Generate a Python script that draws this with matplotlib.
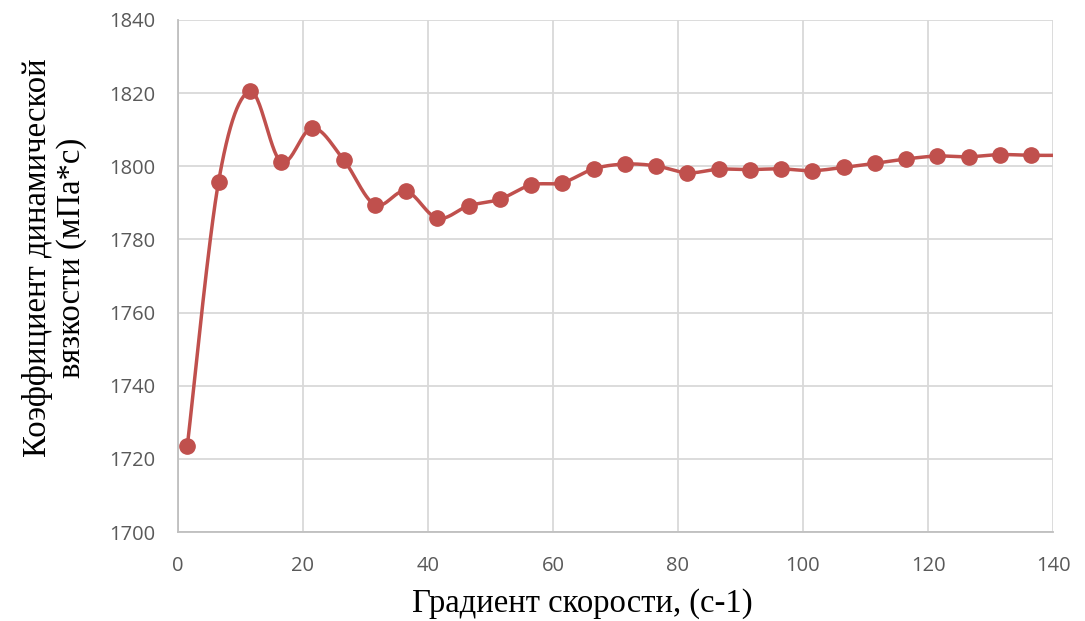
import numpy as np
import matplotlib.pyplot as plt

# скорость сдвига и вязкость
shear_rate = [1.5, 6.5, 11.5, 16.5, 21.5, 26.5, 31.5, 36.5, 41.5, 46.5,
              51.5, 56.5, 61.5, 66.5, 71.5, 76.5, 81.5, 86.5, 91.5, 96.5,
              101.5, 106.5, 111.5, 116.5, 121.5, 126.5, 131.5, 136.5, 141.5]
viscosity = [1723.5, 1795.8, 1820.5, 1801.2, 1810.5, 1801.8, 1789.5, 1793.2,
             1785.8, 1789.2, 1791.0, 1794.9, 1795.5, 1799.3, 1800.6, 1800.1,
             1798.2, 1799.2, 1799.1, 1799.3, 1798.8, 1799.7, 1800.8, 1802.0,
             1802.8, 1802.6, 1803.2, 1803.0, 1803.0]

xticks = [0, 20, 40, 60, 80, 100, 120, 140]
yticks = [1700, 1720, 1740, 1760, 1780, 1800, 1820, 1840]

color = '#C0504D'


def smooth(x, y, n=30):
    # сглаживание как в Excel: кубические Безье с точками Catmull-Rom
    x = np.asarray(x, float)
    y = np.asarray(y, float)
    px = np.concatenate([[x[0]], x, [x[-1]]])
    py = np.concatenate([[y[0]], y, [y[-1]]])
    t = np.linspace(0, 1, n)[:, None]
    xs, ys = [], []
    for i in range(1, len(px) - 2):
        p0 = np.array([px[i], py[i]])
        p3 = np.array([px[i + 1], py[i + 1]])
        c1 = p0 + (np.array([px[i + 1], py[i + 1]]) - np.array([px[i - 1], py[i - 1]])) / 6
        c2 = p3 - (np.array([px[i + 2], py[i + 2]]) - p0) / 6
        b = ((1 - t) ** 3) * p0 + 3 * ((1 - t) ** 2) * t * c1 + 3 * (1 - t) * t ** 2 * c2 + t ** 3 * p3
        xs.append(b[:, 0])
        ys.append(b[:, 1])
    return np.concatenate(xs), np.concatenate(ys)


fig = plt.figure(figsize=(10.85, 6.21), dpi=100)
ax = fig.add_axes([0.164, 0.1433, 0.8065, 0.8245])

sx, sy = smooth(shear_rate, viscosity)
ax.plot(sx, sy, color=color, lw=2.5, solid_capstyle='round', zorder=3)
ax.plot(shear_rate, viscosity, 'o', color=color, ms=11, zorder=4)

ax.set_xlim(0, 140)
ax.set_ylim(1700, 1840)
ax.set_xticks(xticks)
ax.set_yticks(yticks)
ax.grid(True, color='#D9D9D9', lw=1.3)
ax.set_axisbelow(True)
for s in ['top', 'right']:
    ax.spines[s].set_visible(False)
for s in ['left', 'bottom']:
    ax.spines[s].set_color('#BFBFBF')
    ax.spines[s].set_linewidth(1.3)
ax.tick_params(axis='y', length=0, pad=16, labelsize=14.5, labelcolor='#595959')
ax.tick_params(axis='x', length=0, pad=17, labelsize=14.5, labelcolor='#595959')
for lab in ax.get_xticklabels() + ax.get_yticklabels():
    lab.set_family('Open Sans')

ax.set_xlabel('Градиент скорости, (с-1)', family='Liberation Serif',
              fontsize=23.5, labelpad=9)
ax.xaxis.label.set_x(0.462)
ax.set_ylabel('Коэффициент динамической\nвязкости (мПа*с)', family='Liberation Serif',
              fontsize=23.5, labelpad=16, linespacing=1.15)
ax.yaxis.label.set_y(0.535)

fig.savefig('out.png', dpi=100)
